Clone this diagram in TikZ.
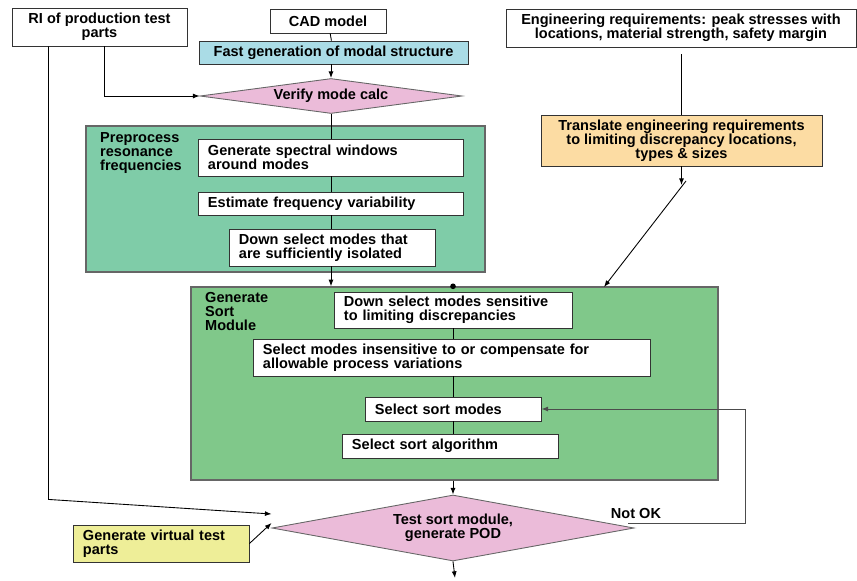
\documentclass[tikz,border=0pt]{standalone}
\usepackage{fontspec}
\setmainfont{Liberation Sans}
\usepackage{tikz}
\usetikzlibrary{arrows.meta,positioning,calc,shapes.geometric}
\usepackage{xcolor}
\definecolor{fcblue}{RGB}{170,220,230}
\definecolor{fcpink}{RGB}{235,187,217}
\definecolor{fcteal}{RGB}{127,204,168}
\definecolor{fcgreen}{RGB}{128,200,138}
\definecolor{fcorange}{RGB}{252,220,163}
\definecolor{fcyellow}{RGB}{238,238,152}
\newcommand{\fcfont}{\fontsize{12.4}{11.9}\selectfont\bfseries}
\tikzset{
  fcbox/.style={draw=black!80, line width=0.75pt, rectangle, inner sep=0pt, font=\fcfont, align=center},
  fcstep/.style={draw=black!80, line width=0.75pt, fill=white, rectangle, inner xsep=0.3cm, inner ysep=0pt, font=\fcfont, align=left},
  fcdecide/.style={draw=black!60, line width=0.75pt, diamond, fill=fcpink, inner sep=0pt, font=\fcfont, align=center},
  fcgroup/.style={draw=black!60, rectangle, line width=1.2pt},
  fcarrow/.style={-{Latex[length=2mm,width=1.5mm]}, line width=0.75pt},
  fcline/.style={line width=0.75pt},
  fclabel/.style={font=\fcfont, align=left, anchor=north west, inner sep=0pt},
}

\begin{document}
\begin{tikzpicture}[x=0.03cm, y=-0.03cm]
  \useasboundingbox (0,0) rectangle (857,581);

  % inputs along the top
  \node[fcbox, minimum width=5.25cm, minimum height=1.14cm] (ri) at (99.5,27) {RI of production test\\parts};
  \node[fcbox, minimum width=3.48cm, minimum height=0.72cm] (cad) at (328,21) {CAD model};
  \node[fcbox, fill=fcblue, minimum width=8.07cm, minimum height=0.69cm] (fastgen) at (333.5,52.5) {Fast generation of modal structure};
  \node[fcdecide, aspect=7.5, minimum width=7.86cm, minimum height=1.05cm] (verify) at (331,96) {Verify mode calc};
  \node[fcbox, minimum width=10.5cm, minimum height=1.14cm] (eng) at (681,28) {Engineering requirements: peak stresses with\\locations, material strength, safety margin};
  \node[fcbox, fill=fcorange, minimum width=8.43cm, minimum height=1.53cm] (translate) at (681.5,140.5) {Translate engineering requirements\\to limiting discrepancy locations,\\types \& sizes};

  % preprocessing group
  \node[fcgroup, fill=fcteal, minimum width=11.97cm, minimum height=4.38cm] (pregrp) at (285.5,199) {};
  \node[fclabel] (prelbl) at (100,132) {Preprocess\\resonance\\frequencies};
  \node[fcstep, text width=7.35cm, minimum height=1.11cm] (spectral) at (330.5,157.5) {Generate spectral windows\\around modes};
  \node[fcstep, text width=7.35cm, minimum height=0.69cm] (estimate) at (330.5,203.5) {Estimate frequency variability};
  \node[fcstep, text width=5.58cm, minimum height=1.11cm] (isolated) at (332,247.5) {Down select modes that\\are sufficiently isolated};

  % sort module group
  \node[fcgroup, fill=fcgreen, minimum width=15.81cm, minimum height=5.79cm] (sortgrp) at (454.5,383.5) {};
  \node[fclabel] (sortlbl) at (205,292) {Generate\\Sort\\Module};
  \node[fcstep, text width=6.54cm, minimum height=1.08cm] (sensitive) at (453,310) {Down select modes sensitive\\to limiting discrepancies};
  \node[fcstep, text width=11.31cm, minimum height=1.11cm] (insensitive) at (451.5,357.5) {Select modes insensitive to or compensate for\\allowable process variations};
  \node[fcstep, text width=4.68cm, minimum height=0.72cm] (sortmodes) at (453,409) {Select sort modes};
  \node[fcstep, text width=5.88cm, minimum height=0.72cm] (sortalgo) at (450,446) {Select sort algorithm};
  \node[circle, fill=black, inner sep=0pt, minimum size=0.17cm] (dot) at (sortgrp.north -| sensitive) {};

  % test stage
  \node[fcdecide, aspect=5.5, minimum width=10.86cm, minimum height=1.98cm] (test) at (453,528) {Test sort module,\\generate POD};
  \node[fcstep, fill=fcyellow, text width=4.68cm, minimum height=1.11cm] (virtual) at (161,543.5) {Generate virtual test\\parts};
  \node[font=\fcfont, inner sep=0pt] (notok) at (636,513) {Not OK};
  \coordinate (out) at (455,578);
  \coordinate (kink) at (686,181);
  \coordinate (sortin) at (604,287);

  % connectors
  \draw[fcline] (cad) -- (fastgen);
  \draw[fcarrow] (fastgen.south -| verify) -- (verify.north);
  \draw[fcarrow] ([xshift=0.14cm]ri.south) |- (verify.west);
  \draw[fcline] (verify.south) -- (verify.south |- spectral.north);
  \draw[fcline] (spectral.south -| verify) -- (estimate.north -| verify);
  \draw[fcline] (estimate.south -| verify) -- (isolated.north -| verify);
  \draw[fcarrow] (isolated.south -| verify) -- (sortgrp.north -| verify);
  \draw[fcline, shorten <=0.21cm] (eng.south -| translate) -- (translate.north);
  \draw[fcarrow] (translate.south) -- (translate.south |- kink) -- ++(0,4);
  \draw[fcarrow] (kink) -- (sortin);
  \draw[fcline] (sensitive.south -| dot) -- (insensitive.north -| dot);
  \draw[fcline] (insensitive.south -| dot) -- (sortmodes.north -| dot);
  \draw[fcline] (sortmodes.south -| dot) -- (sortalgo.north -| dot);
  \draw[fcarrow] (sortgrp.south -| dot) -- (test.north);
  \draw[fcarrow] (test.south) -- (out);
  \draw[fcarrow] ($(ri.south west)+(37,0)$) -- ++(0,453) -- ($(test.west)+(0,-14)$);
  \draw[fcarrow] (virtual.east) -- ($(test.west)+(0,-5)$);
  \draw[fcarrow, draw=black!70] ($(test.east)+(-6,-5)$) -- ++(117,0) |- (sortmodes.east);
\end{tikzpicture}
\end{document}
